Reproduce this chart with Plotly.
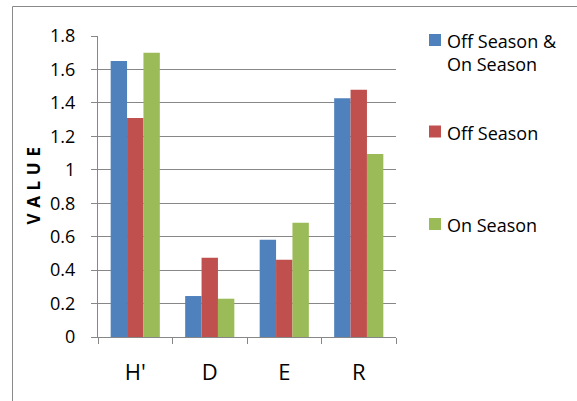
import plotly.graph_objects as go

# Diversity indices per season
categories = ["H'", "D", "E", "R"]
series_names = ["Off Season & On Season", "Off Season", "On Season"]
legend_labels = ["Off Season &<br>On Season", "Off Season", "On Season"]
both_seasons = [1.65, 0.245, 0.581, 1.428]
off_season = [1.31, 0.474, 0.462, 1.479]
on_season = [1.70, 0.229, 0.683, 1.095]
y_ticks = [0, 0.2, 0.4, 0.6, 0.8, 1, 1.2, 1.4, 1.6, 1.8]

colors = ["#4F81BD", "#C0504D", "#9BBB59"]
values = [both_seasons, off_season, on_season]

W, H = 577, 401
L, R, T, B = 98, 181, 36, 64
PW, PH = W - L - R, H - T - B


def px_x(px):
    return (px - L) / PW


def px_y(py):
    return (H - B - py) / PH


FONT = "Open Sans"
GRID = "#878787"

fig = go.Figure()
for name, vals, col in zip(series_names, values, colors):
    fig.add_trace(go.Bar(x=categories, y=vals, name=name,
                         marker=dict(color=col, line=dict(width=0)),
                         showlegend=False))

fig.update_layout(
    width=W, height=H,
    margin=dict(l=L, r=R, t=T, b=B),
    paper_bgcolor="white", plot_bgcolor="white",
    barmode="group", bargap=0.34, bargroupgap=0,
    font=dict(family=FONT, size=18, color="#000000"),
    xaxis=dict(showgrid=False, showline=True, linecolor=GRID, linewidth=1.3,
               ticks="outside", ticklen=6, tickcolor=GRID, tickwidth=1.3,
               tickson="boundaries", ticklabelstandoff=15,
               tickfont=dict(size=22)),
    yaxis=dict(range=[0, 1.8], tickvals=y_ticks,
               ticktext=[f"{v:g}" for v in y_ticks],
               showgrid=True, gridcolor=GRID, gridwidth=1.3,
               showline=True, linecolor=GRID, linewidth=1.3,
               ticks="outside", ticklen=6, tickcolor=GRID, tickwidth=1.3,
               ticklabelstandoff=12, zeroline=False,
               tickfont=dict(size=18)),
)

# Y axis title
fig.add_annotation(text="<b>V\u2004A\u2004L\u2004U\u2004E</b>", textangle=-90,
                   xref="paper", yref="paper", x=px_x(33), y=0.5,
                   xanchor="center", yanchor="middle", showarrow=False,
                   font=dict(size=17, family=FONT, color="#000000"))

# Chart frame
fig.add_shape(type="rect", xref="paper", yref="paper",
              x0=px_x(12.5), x1=px_x(W + 20), y0=px_y(H + 20), y1=px_y(6.5),
              line=dict(color="#898989", width=1), fillcolor="rgba(0,0,0,0)",
              layer="below")

# Legend
legend_rows = [40, 131.5, 224]
for label, col, cy in zip(legend_labels, colors, legend_rows):
    fig.add_shape(type="rect", xref="paper", yref="paper",
                  x0=px_x(429), x1=px_x(441), y0=px_y(cy + 6), y1=px_y(cy - 6),
                  fillcolor=col, line=dict(width=0))
    fig.add_annotation(text=label, xref="paper", yref="paper",
                       x=px_x(445), y=px_y(cy - 13), xanchor="left", yanchor="top",
                       align="left", showarrow=False,
                       font=dict(size=18, family=FONT, color="#000000"))

fig.write_html("out.html")
